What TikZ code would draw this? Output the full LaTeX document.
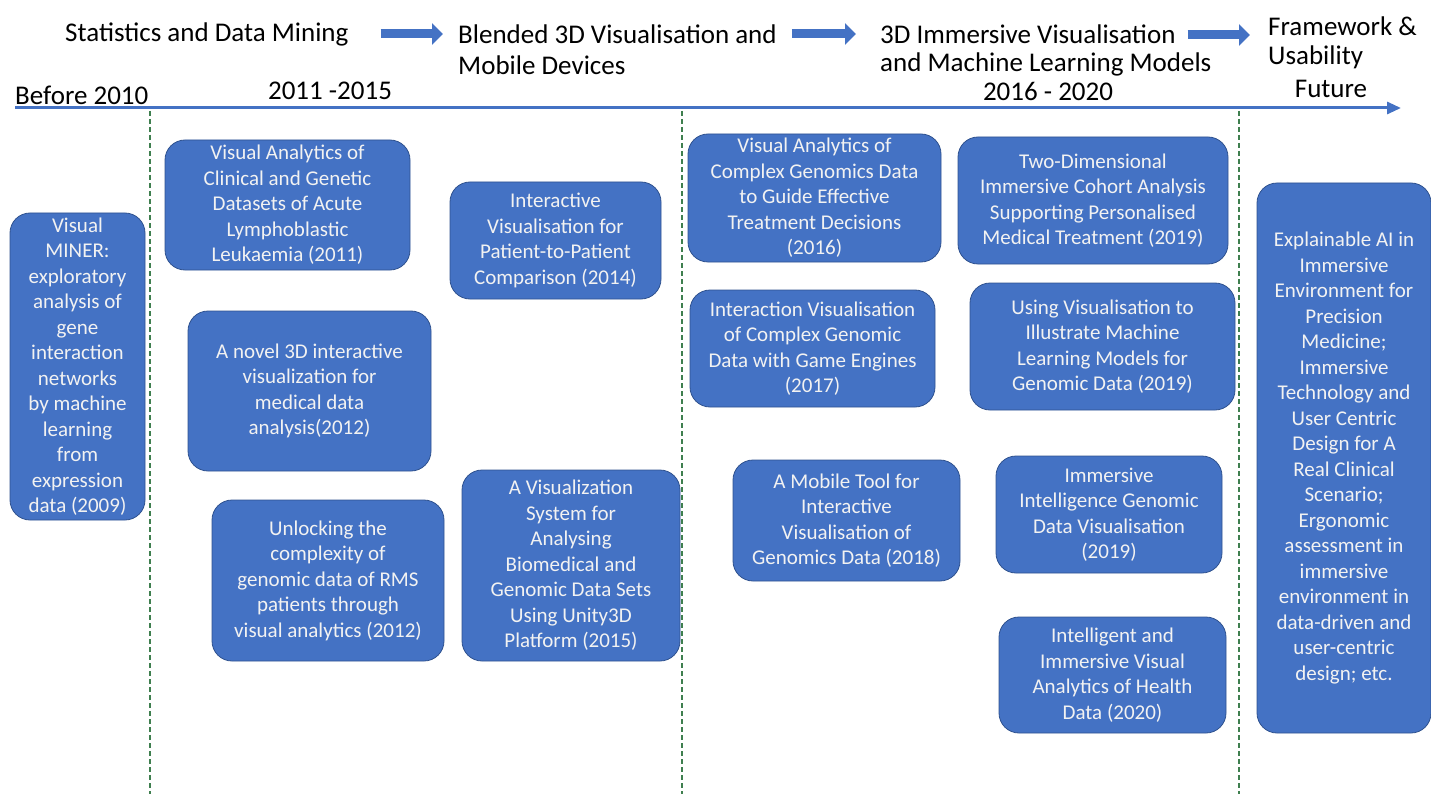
\documentclass[tikz,border=0pt]{standalone}
\usepackage{fontspec}
\setmainfont{Carlito}
\usetikzlibrary{arrows.meta, positioning}
\definecolor{officeblue}{HTML}{4472C4}
\definecolor{edgeblue}{HTML}{2F528F}
\definecolor{dashgreen}{HTML}{3F7F4F}
\definecolor{boxtext}{HTML}{F2F2F2}

\begin{document}
\begin{tikzpicture}[x=1pt, y=-1pt, >=Stealth,
    paper/.style = {rectangle, rounded corners=20pt, align=center, draw=edgeblue, line width=0.8pt, fill=officeblue, text=boxtext, inner sep=2pt, font=\fontsize{21}{25.5}\selectfont},
    head/.style = {anchor=west, inner sep=0pt, font=\fontsize{27}{31}\selectfont},
    era/.style = {inner sep=0pt, font=\fontsize{27}{31}\selectfont},
    phasearrow/.style = {line width=9pt, officeblue, -{Triangle[length=11pt, width=21pt]}},
    timeline/.style = {line width=3pt, officeblue, -{Triangle[length=14pt, width=12pt]}},
    divider/.style = {dashgreen, line width=1.2pt, dash pattern=on 5pt off 3pt}]
        \useasboundingbox (0,0) rectangle (1431,794);

        % Headings
        \node (stats) [head] at (65,34) {Statistics and Data Mining};
        \node (blended1) [head] at (458,34) {Blended 3D Visualisation and};
        \node (blended2) [head] at (458,65) {Mobile Devices};
        \node (immersive1) [head] at (880,34) {3D Immersive Visualisation};
        \node (immersive2) [head] at (880,64) {and Machine Learning Models};
        \node (framework1) [head] at (1268,26) {Framework \&};
        \node (framework2) [head] at (1268,57) {Usability};

        % Eras
        \node (before) [era, anchor=west] at (15,95) {Before 2010};
        \node (early) [era] at (330,91) {2011 -2015};
        \node (late) [era] at (1048,91) {2016 - 2020};
        \node (future) [era] at (1331,89) {Future};

        % Timeline
        \coordinate (tlstart) at (15,108);
        \coordinate (tlend) at (1401,108);
        \draw [timeline] (tlstart) -- (tlend);
        \foreach \x in {150,682,1239}
            \draw [divider] (\x,111) -- (\x,794);

        % Block arrows
        \draw [phasearrow, shorten <=32pt, shorten >=15pt] (stats.east) -- (blended1.west);
        \draw [phasearrow, shorten <=15pt, shorten >=24pt] (blended1.east) -- (immersive1.west);
        \draw [phasearrow, shorten <=12pt, shorten >=18pt] ([yshift=-1pt]immersive1.east) -- ([yshift=-1pt]immersive1.east -| framework1.west);

        % Papers
        \node (miner) [paper, minimum width=135pt, minimum height=307pt] at (77.5,366.5) {Visual\\MINER:\\exploratory\\analysis of\\gene\\interaction\\networks\\by machine\\learning\\from\\expression\\data (2009)};
        \node (leukaemia) [paper, minimum width=245pt, minimum height=130pt] at (287.5,205) {Visual Analytics of\\Clinical and Genetic\\Datasets of Acute\\Lymphoblastic\\Leukaemia (2011)};
        \node (novel) [paper, minimum width=243pt, minimum height=160pt] at (309.5,391) {A novel 3D interactive\\visualization for\\medical data\\analysis(2012)};
        \node (rms) [paper, minimum width=232pt, minimum height=161pt] at (328,580.5) {Unlocking the\\complexity of\\genomic data of RMS\\patients through\\visual analytics (2012)};
        \node (patient) [paper, minimum width=211pt, minimum height=117pt] at (555.5,240.5) {Interactive\\Visualisation for\\Patient-to-Patient\\Comparison (2014)};
        \node (unity) [paper, minimum width=218pt, minimum height=191pt] at (571,565.5) {A Visualization\\System for\\Analysing\\Biomedical and\\Genomic Data Sets\\Using Unity3D\\Platform (2015)};
        \node (treatment) [paper, minimum width=253pt, minimum height=128pt] at (814.5,198) {Visual Analytics of\\Complex Genomics Data\\to Guide Effective\\Treatment Decisions\\(2016)};
        \node (engines) [paper, minimum width=245pt, minimum height=117pt] at (812.5,348.5) {Interaction Visualisation\\of Complex Genomic\\Data with Game Engines\\(2017)};
        \node (mobile) [paper, minimum width=227pt, minimum height=121pt] at (846.5,520.5) {A Mobile Tool for\\Interactive\\Visualisation of\\Genomics Data (2018)};
        \node (cohort) [paper, minimum width=270pt, minimum height=127pt] at (1093,200.5) {Two-Dimensional\\Immersive Cohort Analysis\\Supporting Personalised\\Medical Treatment (2019)};
        \node (models) [paper, minimum width=265pt, minimum height=127pt] at (1102.5,346.5) {Using Visualisation to\\Illustrate Machine\\Learning Models for\\Genomic Data (2019)};
        \node (genomic) [paper, minimum width=226pt, minimum height=117pt] at (1109,514.5) {Immersive\\Intelligence Genomic\\Data Visualisation\\(2019)};
        \node (health) [paper, minimum width=227pt, minimum height=116pt] at (1112.5,675) {Intelligent and\\Immersive Visual\\Analytics of Health\\Data (2020)};
        \node (xai) [paper, minimum width=174pt, minimum height=550pt] at (1344,458) {Explainable AI in\\Immersive\\Environment for\\Precision\\Medicine;\\Immersive\\Technology and\\User Centric\\Design for A\\Real Clinical\\Scenario;\\Ergonomic\\assessment in\\immersive\\environment in\\data-driven and\\user-centric\\design; etc.};
    \end{tikzpicture}
\end{document}
